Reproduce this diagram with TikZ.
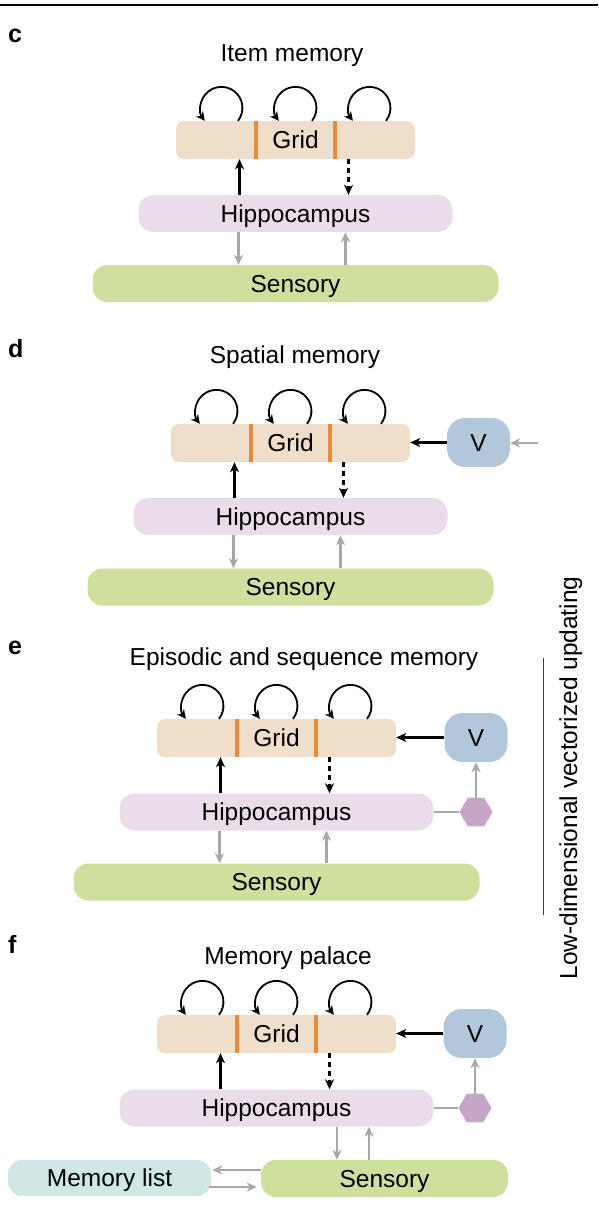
\documentclass[tikz,border=0pt]{standalone}
\usepackage{fontspec}
\setmainfont{Liberation Sans}
\usetikzlibrary{arrows.meta,shapes.geometric}
\definecolor{gridfill}{HTML}{EFDEC9}
\definecolor{gridbar}{HTML}{E78B3A}
\definecolor{hippofill}{HTML}{EBDCE9}
\definecolor{sensfill}{HTML}{CEDF9E}
\definecolor{vfill}{HTML}{B2C8DA}
\definecolor{hexfill}{HTML}{C6A6C8}
\definecolor{memfill}{HTML}{CFE8E5}
\definecolor{arrgray}{HTML}{A8A8A8}
\begin{document}
\begin{tikzpicture}[x=1pt,y=-1pt,
  every node/.style={font=\fontsize{24.5}{29}\selectfont,inner sep=0pt},
  letter/.style={anchor=base west,font=\fontsize{25}{30}\selectfont\bfseries},
  title/.style={anchor=base},
  boxtext/.style={text height=17.5pt,text depth=0pt},
  gridbox/.style={boxtext,fill=gridfill,rounded corners=8pt,minimum width=239pt,minimum height=38pt},
  hippo/.style={boxtext,fill=hippofill,rounded corners=15pt,minimum width=314pt,minimum height=37pt},
  sensory/.style={boxtext,fill=sensfill,rounded corners=15pt,minimum width=406pt,minimum height=37pt},
  vbox/.style={boxtext,fill=vfill,rounded corners=18pt,minimum width=63pt,minimum height=49pt},
  hexa/.style={regular polygon,regular polygon sides=6,fill=hexfill,minimum size=33pt},
  memlist/.style={boxtext,fill=memfill,rounded corners=14pt,minimum width=203pt,minimum height=36pt},
  divider/.style={draw=gridbar,line width=4pt},
  blk/.style={line width=2.2pt,-{Stealth[length=10pt,width=9pt,inset=3pt]}},
  dsh/.style={blk,dash pattern=on 5pt off 4pt},
  gry/.style={draw=arrgray,line width=2.1pt,-{Stealth[length=10pt,width=9pt,inset=3pt]}},
  gryline/.style={draw=arrgray,line width=2.1pt},
  selfloop/.style={line width=1.8pt,-{Stealth[length=9pt,width=9pt,inset=3pt]}}]
\useasboundingbox (0,0) rectangle (598,1208);
\draw[line width=1.2pt] (0,5) -- (598,5);

% c: item memory
\node[letter] (labC) at (8,42) {c};
\node[title] (titC) at (292,61) {Item memory};
\node[gridbox] (gridC) at (295.5,140) {Grid};
\node[hippo] (hipC) at (295.5,213.5) {Hippocampus};
\node[sensory] (sensC) at (295.5,283.5) {Sensory};
\foreach \dx in {-39.5,39.5}
  \draw[divider] ([xshift=\dx*1pt]gridC.north) -- ([xshift=\dx*1pt]gridC.south);
\foreach \dx in {-74,0,74}
  \draw[selfloop] ([xshift={(\dx+16.5)*1pt}]gridC.north) arc[start angle=-38,end angle=218,radius=21pt];
\draw[blk] ([xshift=-56pt]hipC.north) -- ([xshift=-56pt]gridC.south);
\draw[dsh] ([xshift=53pt]gridC.south) -- ([xshift=53pt]hipC.north);
\draw[gry] ([xshift=-57pt]hipC.south) -- ([xshift=-57pt]sensC.north);
\draw[gry] ([xshift=50pt]sensC.north) -- ([xshift=50pt]hipC.south);

% d: spatial memory
\node[letter] (labD) at (8,357) {d};
\node[title] (titD) at (295,363) {Spatial memory};
\node[gridbox] (gridD) at (290.5,443) {Grid};
\node[hippo] (hipD) at (290.5,516.5) {Hippocampus};
\node[sensory] (sensD) at (290.5,587) {Sensory};
\node[vbox] (vD) at (478.5,442.5) {V};
\coordinate (inD) at (538,443);
\foreach \dx in {-39.5,39.5}
  \draw[divider] ([xshift=\dx*1pt]gridD.north) -- ([xshift=\dx*1pt]gridD.south);
\foreach \dx in {-74,0,74}
  \draw[selfloop] ([xshift={(\dx+16.5)*1pt}]gridD.north) arc[start angle=-38,end angle=218,radius=21pt];
\draw[blk] ([xshift=-56pt]hipD.north) -- ([xshift=-56pt]gridD.south);
\draw[dsh] ([xshift=53pt]gridD.south) -- ([xshift=53pt]hipD.north);
\draw[gry] ([xshift=-57pt]hipD.south) -- ([xshift=-57pt]sensD.north);
\draw[gry] ([xshift=50pt]sensD.north) -- ([xshift=50pt]hipD.south);
\draw[blk] (vD.west) -- (vD.west -| gridD.east);
\draw[gry] (inD) -- (inD -| vD.east);

% e: episodic and sequence memory
\node[letter] (labE) at (8,654) {e};
\node[title] (titE) at (304,665) {Episodic and sequence memory};
\node[gridbox] (gridE) at (276.5,738) {Grid};
\node[hippo] (hipE) at (276.5,812) {Hippocampus};
\node[sensory] (sensE) at (276.5,882) {Sensory};
\node[vbox] (vE) at (476,737.5) {V};
\node[hexa] (hexE) at (476,812) {};
\foreach \dx in {-39.5,39.5}
  \draw[divider] ([xshift=\dx*1pt]gridE.north) -- ([xshift=\dx*1pt]gridE.south);
\foreach \dx in {-74,0,74}
  \draw[selfloop] ([xshift={(\dx+16.5)*1pt}]gridE.north) arc[start angle=-38,end angle=218,radius=21pt];
\draw[blk] ([xshift=-56pt]hipE.north) -- ([xshift=-56pt]gridE.south);
\draw[dsh] ([xshift=53pt]gridE.south) -- ([xshift=53pt]hipE.north);
\draw[gry] ([xshift=-57pt]hipE.south) -- ([xshift=-57pt]sensE.north);
\draw[gry] ([xshift=50pt]sensE.north) -- ([xshift=50pt]hipE.south);
\draw[blk] (vE.west) -- (vE.west -| gridE.east);
\draw[gryline] (hipE.east) -- (hexE);
\draw[gry] (hexE) -- (vE);

% f: memory palace
\node[letter] (labF) at (8,953) {f};
\node[title] (titF) at (288,964) {Memory palace};
\node[gridbox] (gridF) at (276.5,1034) {Grid};
\node[hippo] (hipF) at (276.5,1108) {Hippocampus};
\node[sensory,minimum width=247pt] (sensF) at (384.5,1178.5) {Sensory};
\node[memlist] (memF) at (109.5,1178) {Memory list};
\node[vbox] (vF) at (475,1033.5) {V};
\node[hexa] (hexF) at (475,1108) {};
\foreach \dx in {-39.5,39.5}
  \draw[divider] ([xshift=\dx*1pt]gridF.north) -- ([xshift=\dx*1pt]gridF.south);
\foreach \dx in {-74,0,74}
  \draw[selfloop] ([xshift={(\dx+16.5)*1pt}]gridF.north) arc[start angle=-38,end angle=218,radius=21pt];
\draw[blk] ([xshift=-56pt]hipF.north) -- ([xshift=-56pt]gridF.south);
\draw[dsh] ([xshift=53pt]gridF.south) -- ([xshift=53pt]hipF.north);
\draw[gry] ([xshift=60.5pt]hipF.south) -- ([xshift=60.5pt]hipF.south |- sensF.north);
\draw[gry] ([xshift=92.5pt]hipF.south |- sensF.north) -- ([xshift=92.5pt]hipF.south);
\draw[blk] (vF.west) -- (vF.west -| gridF.east);
\draw[gryline] (hipF.east) -- (hexF);
\draw[gry] (hexF) -- (vF);
\draw[gry,shorten >=1pt] ([yshift=8.5pt]sensF.west) -- ([yshift=8.5pt]sensF.west -| memF.east);
\draw[gry,shorten >=4pt,shorten <=-2pt] ([yshift=-9pt]memF.east) -- ([yshift=-9pt]memF.east -| sensF.west);

% low-dimensional vectorized updating
\draw[line width=1pt,black!75] (543,658) -- (543,915);
\node[rotate=90,anchor=base] (lowdim) at (577,778) {Low-dimensional vectorized updating};
\end{tikzpicture}
\end{document}
